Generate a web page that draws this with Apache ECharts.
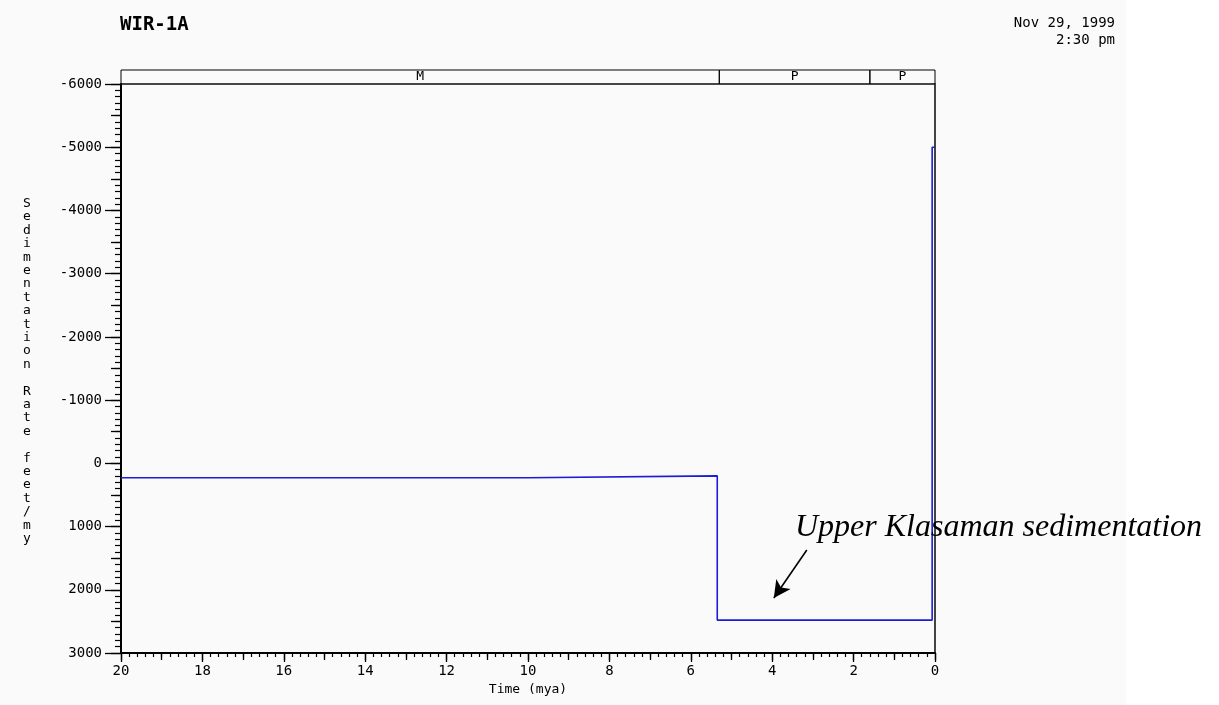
<!DOCTYPE html>
<html>
<head>
<meta charset="utf-8">
<script src="https://cdn.jsdelivr.net/npm/echarts@6/dist/echarts.min.js"></script>
<style>
html,body{margin:0;padding:0;background:#ffffff;}
#c{width:1219px;height:705px;}
</style>
</head>
<body>
<div id="c"></div>
<script>
// ---- data ----
var titleText = 'WIR-1A';
var dateLines = ['Nov 29, 1999', '2:30 pm'];
var yAxisTitle = 'Sedimentation Rate feet/my';
var xAxisTitle = 'Time (mya)';
// step boundaries (mya) and the sedimentation rate (feet/my) held from each boundary to the next
var stepAges  = [20, 10, 5.35, 0.07, 0];
var stepRates = [228, 198, 2480, -5000];
// stratigraphic band
var bandStarts = [20, 5.3, 1.6];
var bandEnds   = [5.3, 1.6, 0];
var bandLabels = ['M', 'P', 'P'];
// axis ranges
var xRange = [0, 20];
var yRange = [-6000, 3000];
// annotation
var noteText = 'Upper Klasaman sedimentation';
var arrowFrom = [3.15, 1370];
var arrowTo   = [3.96, 2130];

var mono = '"DejaVu Sans Mono", monospace';
// staircase: each rate held from stepAges[i] to stepAges[i+1]
var lineData = [];
stepRates.forEach(function (r, i) {
  lineData.push([stepAges[i], r]);
  lineData.push([stepAges[i + 1], r]);
});
var bandAreas = bandStarts.map(function (s, i) {
  return [{ xAxis: s, name: bandLabels[i] }, { xAxis: bandEnds[i] }];
});

var chart = echarts.init(document.getElementById('c'), null, { renderer: 'canvas' });
chart.setOption({
  backgroundColor: 'transparent',
  animation: false,
  graphic: [
    { type: 'rect', z: -10, silent: true, shape: { x: 0, y: 0, width: 1126, height: 705 }, style: { fill: '#fafafa' } },
    { type: 'text', x: 120, y: 16, style: { text: titleText, font: 'bold 19px ' + mono, fill: '#000' } },
    { type: 'text', x: 1115, y: 16, style: { text: dateLines[0], font: '14px ' + mono, fill: '#000', align: 'right' } },
    { type: 'text', x: 1115, y: 33, style: { text: dateLines[1], font: '14px ' + mono, fill: '#000', align: 'right' } },
    { type: 'text', x: 27, y: 197, style: { text: yAxisTitle.split('').join('\n'), font: '13px ' + mono, fill: '#000', align: 'center', lineHeight: 13.4 } },
    { type: 'text', x: 795, y: 512, z: 50, style: { text: noteText, font: 'italic 32px "Liberation Serif", "Times New Roman", serif', fill: '#000' } }
  ],
  grid: [
    { left: 121, right: 284, top: 84, bottom: 52, show: true, borderColor: '#222', borderWidth: 1, backgroundColor: 'transparent' },
    { left: 121, right: 284, top: 70, height: 14, show: false }
  ],
  xAxis: [
    {
      type: 'value', gridIndex: 0, min: xRange[0], max: xRange[1], inverse: true, interval: 2, position: 'bottom',
      name: xAxisTitle, nameLocation: 'middle', nameGap: 30,
      nameTextStyle: { fontFamily: mono, fontSize: 13, color: '#000' },
      axisLine: { show: true, onZero: false, lineStyle: { color: '#000', width: 2 } },
      axisTick: { show: true, length: 9, lineStyle: { color: '#000', width: 1.3 } },
      minorTick: { show: true, splitNumber: 10, length: 4, lineStyle: { color: '#000', width: 1.2 } },
      axisLabel: { margin: 11, fontFamily: mono, fontSize: 14, color: '#000', formatter: function (v) { return String(v); } },
      splitLine: { show: false }, minorSplitLine: { show: false }
    },
    {
      type: 'value', gridIndex: 0, min: xRange[0], max: xRange[1], inverse: true, interval: 1, position: 'bottom',
      axisLine: { show: false, onZero: false }, axisLabel: { show: false },
      axisTick: { show: true, length: 7, lineStyle: { color: '#000', width: 1.3 } },
      splitLine: { show: false }
    },
    {
      type: 'value', gridIndex: 1, min: xRange[0], max: xRange[1], inverse: true, show: false
    }
  ],
  yAxis: [
    {
      type: 'value', gridIndex: 0, min: yRange[0], max: yRange[1], inverse: true, interval: 1000, position: 'left',
      axisLine: { show: true, onZero: false, lineStyle: { color: '#000', width: 2 } },
      axisTick: { show: true, length: 16, lineStyle: { color: '#000', width: 1.3 } },
      minorTick: { show: true, splitNumber: 10, length: 6, lineStyle: { color: '#000', width: 1.2 } },
      axisLabel: { margin: 19, fontFamily: mono, fontSize: 14, color: '#000', formatter: function (v) { return String(v); } },
      splitLine: { show: false }, minorSplitLine: { show: false }
    },
    {
      type: 'value', gridIndex: 0, min: yRange[0], max: yRange[1], inverse: true, interval: 500, position: 'left',
      axisLine: { show: false, onZero: false }, axisLabel: { show: false },
      axisTick: { show: true, length: 10, lineStyle: { color: '#000', width: 1.3 } },
      splitLine: { show: false }
    },
    {
      type: 'value', gridIndex: 0, min: yRange[0], max: yRange[1], inverse: true, position: 'right',
      axisLine: { show: true, onZero: false, lineStyle: { color: '#444', width: 2 } },
      axisTick: { show: false }, axisLabel: { show: false }, splitLine: { show: false }
    },
    {
      type: 'value', gridIndex: 1, min: 0, max: 1, show: false
    }
  ],
  series: [
    {
      type: 'line', xAxisIndex: 0, yAxisIndex: 0, data: lineData,
      showSymbol: false, symbol: 'none',
      lineStyle: { color: '#1c1cd4', width: 1.6 },
      markLine: {
        silent: true, symbol: ['none', 'arrow'], symbolSize: [13, 17],
        lineStyle: { color: '#000', width: 1.6, type: 'solid' },
        label: { show: false },
        data: [[{ coord: arrowFrom }, { coord: arrowTo }]]
      }
    },
    {
      type: 'line', xAxisIndex: 2, yAxisIndex: 3, data: [],
      markArea: {
        silent: true,
        itemStyle: { color: 'transparent', borderColor: '#000', borderWidth: 1 },
        label: { show: true, position: 'inside', color: '#000', fontFamily: mono, fontSize: 13 },
        data: bandAreas
      }
    }
  ]
});
</script>
</body>
</html>
